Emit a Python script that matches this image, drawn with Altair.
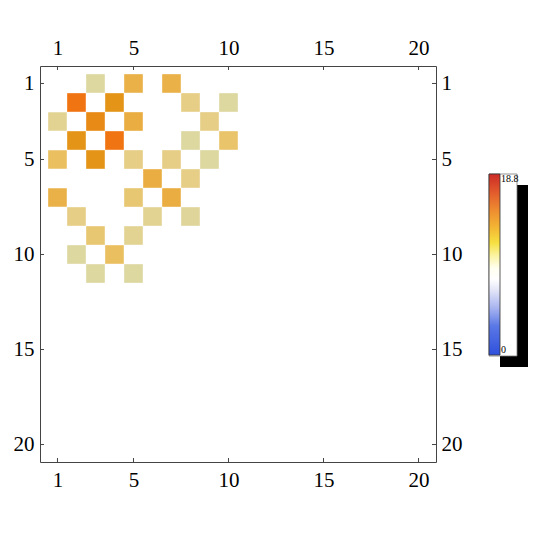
import altair as alt
import pandas as pd

# ---- data ----
rows = [1, 1, 1, 2, 2, 2, 2, 3, 3, 3, 3, 4, 4, 4, 4, 5, 5, 5, 5, 5,
        6, 6, 7, 7, 7, 8, 8, 8, 9, 9, 10, 10, 11, 11]
cols = [3, 5, 7, 2, 4, 8, 10, 1, 3, 5, 9, 2, 4, 8, 10, 1, 3, 5, 7, 9,
        6, 8, 1, 5, 7, 2, 6, 8, 3, 5, 2, 4, 3, 5]
values = [10, 12.8, 12.8, 15.5, 14, 11, 10, 10.5, 14.5, 13, 11, 14, 15.5, 10, 11.7,
          12, 14, 11, 11, 10, 13, 11, 12.8, 11.5, 13, 11, 10.5, 10.2, 11.5, 10.5,
          10, 12, 10, 10]
tick_values = [1, 5, 10, 15, 20]
color_min = 0
color_max = 18.8
cb_labels = ["18.8", "0"]

scale_domain = [0, 5, 8, 10, 11, 12, 13, 14, 15.5, 17, 18.8]
scale_range = ["#2F50DC", "#A8B4F0", "#FFFFFF", "#DDD7A0", "#E6CE86", "#EABF60",
               "#E9AD42", "#E49518", "#F07412", "#E04A28", "#CC2A26"]

cb_offsets = [0, 0.16, 0.26, 0.36, 0.42, 0.48, 0.55, 0.62, 0.70, 0.80, 0.90, 1.0]
cb_colors = ["#2F50DC", "#5A78E6", "#A8B4F0", "#E4E6F8", "#FFFFFF", "#FFFFF0",
             "#FBF3A0", "#F6E040", "#F3B834", "#EE8C30", "#E25A2C", "#CC2A26"]

df = pd.DataFrame({"row": rows, "col": cols, "v": values})
ticks = pd.DataFrame({"t": tick_values})

FONT = "Liberation Serif"
FS = 21
W = 396
H = 396
xdom = [0.08, 20.92]
ydom = [0.08, 20.92]

xscale = alt.Scale(domain=xdom, nice=False, zero=False)
yscale = alt.Scale(domain=ydom, nice=False, zero=False, reverse=True)


def ax(orient, pad):
    return alt.Axis(orient=orient, values=tick_values, title=None, ticks=False,
                    domain=False, grid=False, labelFont=FONT, labelFontSize=FS,
                    labelColor="black", labelPadding=pad, labelFlush=False,
                    format="d")


cells = alt.Chart(df).transform_calculate(
    x0="datum.col - 0.49", x1="datum.col + 0.49",
    y0="datum.row - 0.49", y1="datum.row + 0.49",
).mark_rect().encode(
    x=alt.X("x0:Q", scale=xscale, axis=ax("bottom", 7)),
    x2="x1:Q",
    y=alt.Y("y0:Q", scale=yscale, axis=ax("left", 6)),
    y2="y1:Q",
    color=alt.Color("v:Q", scale=alt.Scale(domain=scale_domain, range=scale_range,
                                           interpolate="rgb"), legend=None),
)

tick_color = "#444"
tx_bottom = alt.Chart(ticks).mark_rule(color=tick_color).encode(
    x=alt.X("t:Q", scale=xscale, axis=None), y=alt.value(H), y2=alt.value(H - 4))
tx_top = alt.Chart(ticks).mark_rule(color=tick_color).encode(
    x=alt.X("t:Q", scale=xscale, axis=ax("top", 8)), y=alt.value(0), y2=alt.value(4))
ty_left = alt.Chart(ticks).mark_rule(color=tick_color).encode(
    y=alt.Y("t:Q", scale=yscale, axis=None), x=alt.value(0), x2=alt.value(4))
ty_right = alt.Chart(ticks).mark_rule(color=tick_color).encode(
    y=alt.Y("t:Q", scale=yscale, axis=ax("right", 5)), x=alt.value(W), x2=alt.value(W - 4))

one = alt.Data(values=[{}])
shadow = alt.Chart(one).mark_rect(fill="black").encode(
    x=alt.value(460), x2=alt.value(488), y=alt.value(119), y2=alt.value(301))
box = alt.Chart(one).mark_rect(fill="white", stroke="#777", strokeWidth=0.8).encode(
    x=alt.value(449), x2=alt.value(477), y=alt.value(108), y2=alt.value(290))
grad = alt.Chart(one).mark_rect(
    fill=alt.LinearGradient(
        gradient="linear",
        stops=[alt.GradientStop(offset=o, color=c) for o, c in zip(cb_offsets, cb_colors)],
        x1=0, x2=0, y1=1, y2=0),
    stroke="#333", strokeWidth=0.8,
).encode(x=alt.value(449), x2=alt.value(460), y=alt.value(108), y2=alt.value(289))
lab_top = alt.Chart(one).mark_text(text=cb_labels[0], font=FONT, fontSize=10,
                                   align="left", baseline="top", color="black").encode(
    x=alt.value(461), y=alt.value(108))
lab_bot = alt.Chart(one).mark_text(text=cb_labels[1], font=FONT, fontSize=10,
                                   align="left", baseline="bottom", color="black").encode(
    x=alt.value(461), y=alt.value(289))

chart = alt.layer(
    cells, tx_bottom, tx_top, ty_left, ty_right, shadow, box, grad, lab_top, lab_bot
).resolve_axis(x="independent", y="independent").properties(
    width=W, height=H,
    autosize=alt.AutoSizeParams(type="none"),
    padding={"left": 32, "top": 58, "right": 96, "bottom": 50},
    background="white",
).configure_view(stroke="#444", strokeWidth=1)

chart.save("out.html", embed_options={"renderer": "svg", "actions": False})
